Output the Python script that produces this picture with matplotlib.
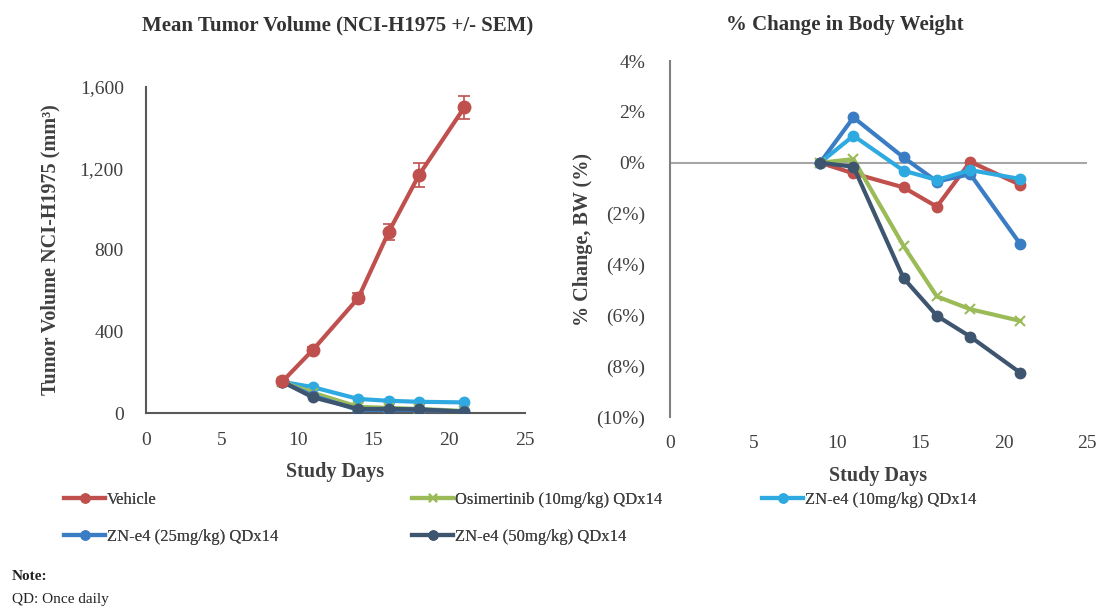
import matplotlib
matplotlib.use("Agg")
import matplotlib.pyplot as plt
from matplotlib.ticker import FuncFormatter
from matplotlib.lines import Line2D

plt.rcParams['font.family'] = ['Liberation Serif', 'DejaVu Serif']

days = [9, 11, 14, 16, 18, 21]
series_names = ["Vehicle", "Osimertinib (10mg/kg) QDx14", "ZN-e4 (10mg/kg) QDx14",
                "ZN-e4 (25mg/kg) QDx14", "ZN-e4 (50mg/kg) QDx14"]
colors = ["#C0504D", "#9BBB59", "#2EAAE1", "#3A7DC4", "#3E5570"]
markers = ["o", "x", "o", "o", "o"]

# Mean tumor volume (mm^3)
vol_vehicle = [155, 309, 564, 887, 1167, 1500]
vol_osim = [152, 100, 30, 25, 20, 10]
vol_zn10 = [153, 127, 69, 60, 55, 52]
vol_zn25 = [152, 85, 15, 15, 15, 8]
vol_zn50 = [153, 77, 20, 20, 18, 6]
sem_vehicle = [10, 15, 25, 40, 60, 56]

# % change in body weight
bw_vehicle = [0, -0.42, -0.97, -1.73, 0.04, -0.87]
bw_osim = [0, 0.14, -3.27, -5.26, -5.76, -6.22]
bw_zn10 = [0, 1.06, -0.31, -0.68, -0.29, -0.64]
bw_zn25 = [0, 1.78, 0.21, -0.74, -0.45, -3.2]
bw_zn50 = [0, -0.16, -4.54, -6.02, -6.84, -8.26]

vols = [vol_vehicle, vol_osim, vol_zn10, vol_zn25, vol_zn50]
bws = [bw_vehicle, bw_osim, bw_zn10, bw_zn25, bw_zn50]

text_col = "#404040"
W, H = 1098, 608
fig = plt.figure(figsize=(W / 100, H / 100), dpi=100)

def ax_rect(x0, y0, x1, y1):
    return [x0 / W, 1 - y1 / H, (x1 - x0) / W, (y1 - y0) / H]

# Left chart
ax1 = fig.add_axes(ax_rect(146, 87, 525, 413))
for i in [2, 1, 3, 4]:
    ax1.plot(days, vols[i], color=colors[i], marker=markers[i], lw=3, ms=7,
             mew=1.5, zorder=3)
ax1.errorbar(days, vol_vehicle, yerr=sem_vehicle, color=colors[0], marker="o", lw=3,
             ms=9, capsize=4, elinewidth=1.2, capthick=1.2, zorder=4)
ax1.set_xlim(0, 25)
ax1.set_ylim(0, 1600)
ax1.set_xticks([0, 5, 10, 15, 20, 25])
ax1.set_yticks([0, 400, 800, 1200, 1600])
ax1.yaxis.set_major_formatter(FuncFormatter(lambda v, p: f"{int(v):,}"))
for s in ["top", "right"]:
    ax1.spines[s].set_visible(False)
for s in ["left", "bottom"]:
    ax1.spines[s].set_color("#595959")
    ax1.spines[s].set_linewidth(1.5)
ax1.tick_params(length=0, labelsize=14, colors=text_col)
ax1.tick_params(axis="y", pad=16)
ax1.tick_params(axis="x", pad=14)
ax1.set_xlabel("Study Days", fontsize=14.5, fontweight="bold", color=text_col, labelpad=9)
ax1.set_ylabel("Tumor Volume NCI-H1975 (mm³)", fontsize=14.5, fontweight="bold",
               color=text_col, labelpad=14)

# Right chart
ax2 = fig.add_axes(ax_rect(670, 61, 1087, 417))
ax2.axhline(0, color="#A6A6A6", lw=1.5, zorder=1)
for i in [0, 3, 2, 1, 4]:
    ax2.plot(days, bws[i], color=colors[i], marker=markers[i], lw=3, ms=7, mew=1.5, zorder=3)
ax2.set_xlim(0, 25)
ax2.set_ylim(-10, 4)
ax2.set_xticks([0, 5, 10, 15, 20, 25])
ax2.set_yticks(list(range(-10, 5, 2)))
def pct(v, p):
    v = int(round(v))
    return f"({abs(v)}%)" if v < 0 else f"{v}%"
ax2.yaxis.set_major_formatter(FuncFormatter(pct))
for s in ["top", "right", "bottom"]:
    ax2.spines[s].set_visible(False)
ax2.spines["left"].set_color("#808080")
ax2.spines["left"].set_linewidth(1.5)
ax2.tick_params(length=0, labelsize=14, colors=text_col)
ax2.tick_params(axis="y", pad=18)
ax2.tick_params(axis="x", pad=13)
ax2.set_xlabel("Study Days", fontsize=14.5, fontweight="bold", color=text_col, labelpad=10)
ax2.set_ylabel("% Change, BW (%)", fontsize=14.5, fontweight="bold", color=text_col, labelpad=2)

# Titles
fig.text(338 / W, 1 - 25 / H, "Mean Tumor Volume (NCI-H1975 +/- SEM)", fontsize=15,
         fontweight="bold", color="#333333", ha="center", va="center")
fig.text(845 / W, 1 - 25 / H, "% Change in Body Weight", fontsize=15,
         fontweight="bold", color="#333333", ha="center", va="center")

# Legend
handles = [Line2D([0], [0], color=colors[i], lw=3, marker=markers[i], ms=6, mew=1.5)
           for i in range(5)]
leg_pos = [(62, 500), (410, 500), (760, 500), (62, 537), (410, 537)]
for i, (x, y) in enumerate(leg_pos):
    leg = fig.legend([handles[i]], [series_names[i]], loc="center left",
                     bbox_to_anchor=(x / W - 0.012, 1 - y / H), frameon=False,
                     fontsize=12, handlelength=2.5, handletextpad=0.1,
                     labelcolor=text_col)
    fig.add_artist(leg)

fig.text(12 / W, 1 - 577 / H, "Note:", fontsize=11, fontweight="bold", color="#222222",
         va="center")
fig.text(12 / W, 1 - 600 / H, "QD: Once daily", fontsize=11, color="#222222", va="center")

fig.savefig("out.png", dpi=100)
